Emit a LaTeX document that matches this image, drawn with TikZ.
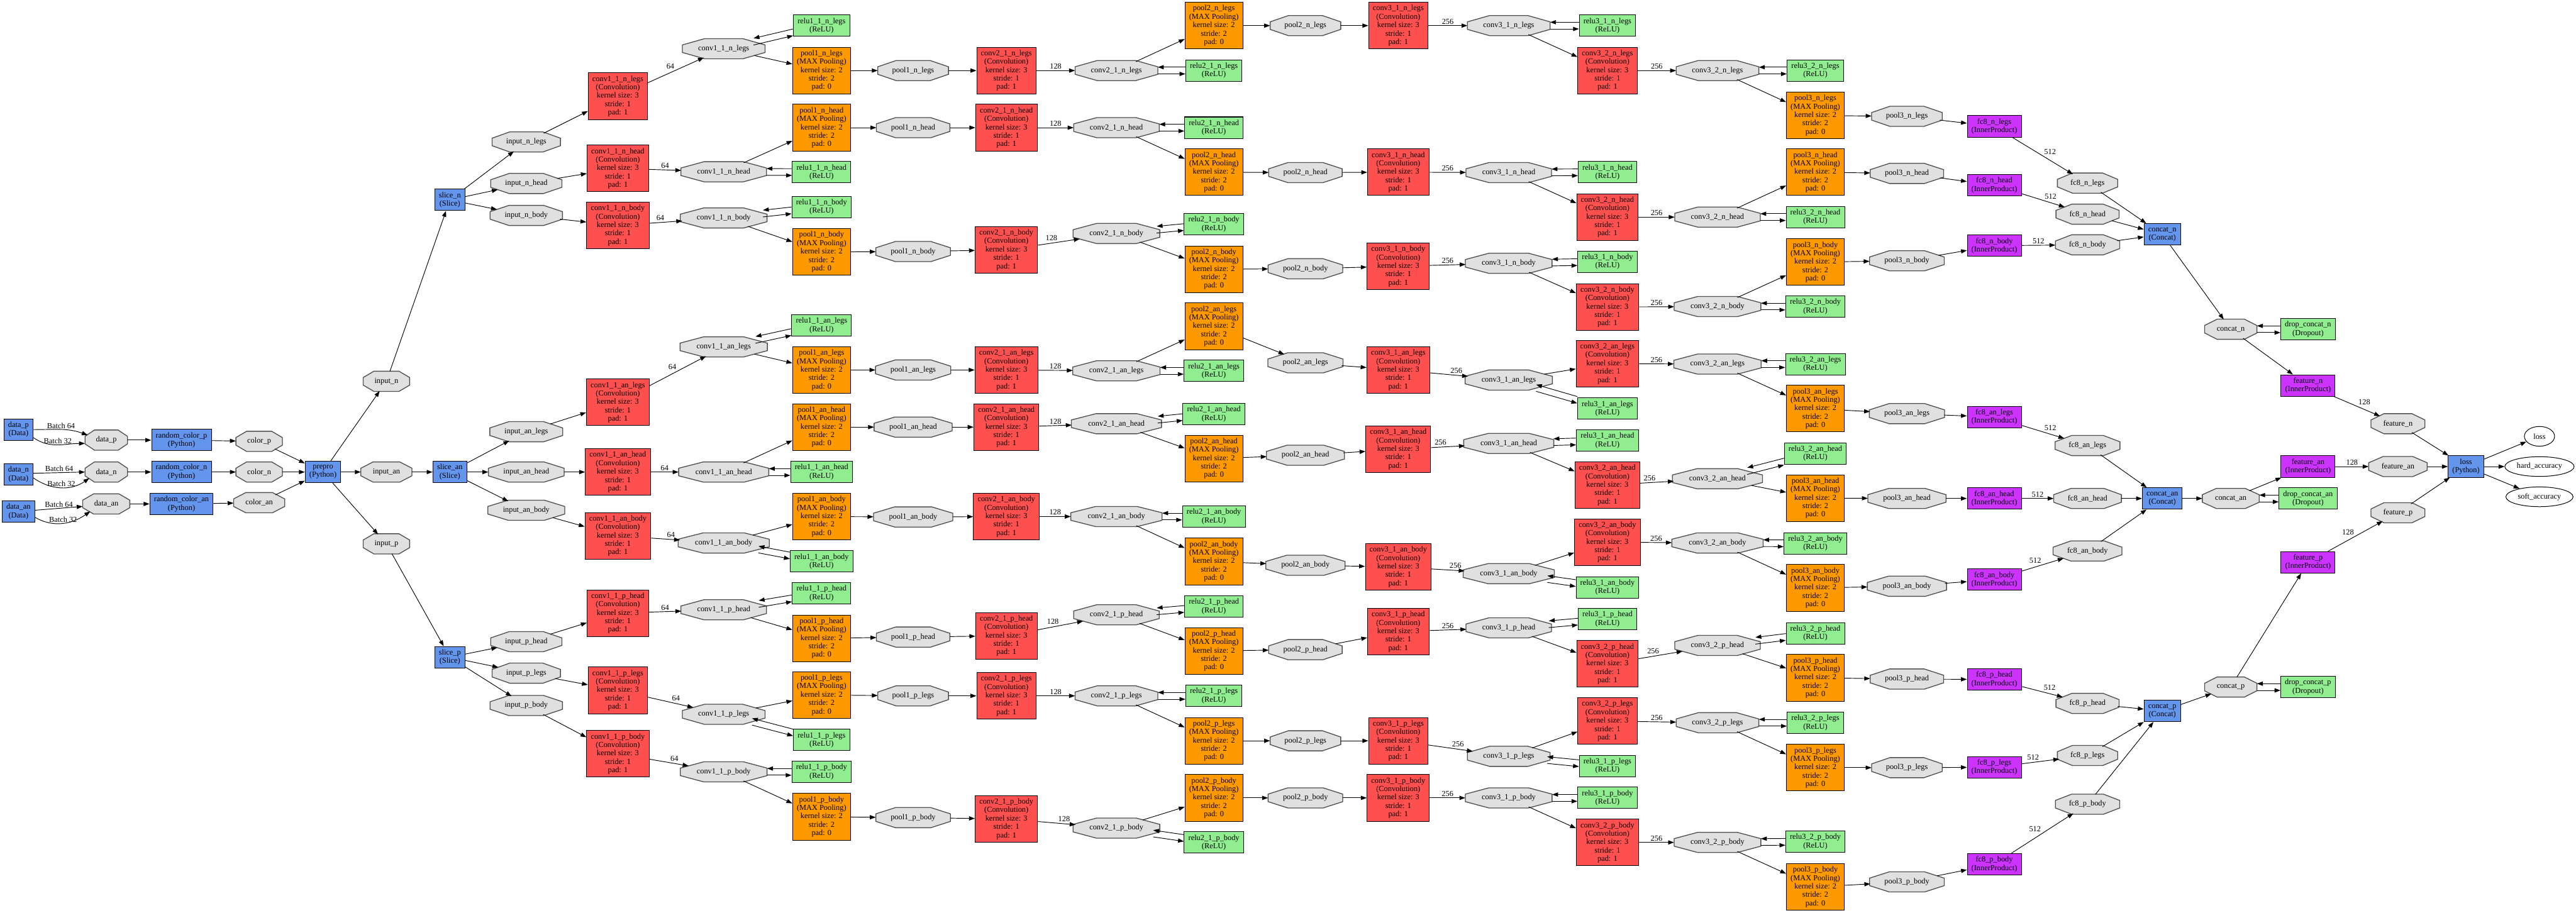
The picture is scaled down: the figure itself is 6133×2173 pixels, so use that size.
\documentclass[tikz,border=0pt]{standalone}
\usepackage{fontspec}
\setmainfont{Liberation Serif}
\usetikzlibrary{arrows.meta,shapes.geometric}
\definecolor{convc}{HTML}{FF5050}
\definecolor{poolc}{HTML}{FF9900}
\definecolor{reluc}{HTML}{90EE90}
\definecolor{bluec}{HTML}{6495ED}
\definecolor{ipc}{HTML}{CC33FF}
\definecolor{blobc}{HTML}{E0E0E0}
\definecolor{blobline}{HTML}{505050}
\catcode`\_=12
\newcommand\nodefont{\fontsize{18.5}{20}\selectfont}
\tikzset{
  lay/.style={draw=black, line width=1.5pt, font=\nodefont, align=center, inner xsep=10pt, inner ysep=0pt, minimum height=51pt},
  layfive/.style={lay, minimum height=111pt},
  txtnode/.style={font=\nodefont, inner sep=0pt},
  blobnode/.style={ellipse, font=\nodefont, inner sep=0pt, minimum height=48pt},
  blobshape/.style={fill=blobc, draw=blobline, line width=2pt, line join=miter},
  ell/.style={ellipse, draw=black, line width=1.5pt, font=\nodefont, minimum height=47pt, inner sep=0pt},
  conn/.style={draw=black, line width=1.4pt, -{Triangle[length=14pt,width=10pt]}},
  elabel/.style={auto, font=\nodefont, inner sep=3pt},
  blabel/.style={above, font=\nodefont, inner sep=2pt},
}
\newcommand\blob[3]{%
  \node[txtnode] (T-#1) at (#2,#3) {\phantom{#1}};%
  \pgfpointdiff{\pgfpointanchor{T-#1}{west}}{\pgfpointanchor{T-#1}{east}}%
  \pgfgetlastxy{\Otw}{\Oty}%
  \pgfmathsetmacro\Ow{1.33*\Otw+35}%
  \pgfmathsetmacro\Oh{\Ow/2}%
  \pgfmathsetmacro\Oc{\Oh-max(0.32*\Ow-10,12)}%
  \filldraw[blobshape] ({#2-\Oh},{#3-9}) -- ({#2-\Oc},{#3-24}) -- ({#2+\Oc},{#3-24}) -- ({#2+\Oh},{#3-9}) -- ({#2+\Oh},{#3+9}) -- ({#2+\Oc},{#3+24}) -- ({#2-\Oc},{#3+24}) -- ({#2-\Oh},{#3+9}) -- cycle;
  \node[blobnode, minimum width=\Ow] (B-#1) at (#2,#3) {#1};
}
\newcommand\conv[3]{\node[layfive,fill=convc] (L-#1) at (#2,#3) {#1\\(Convolution)\\kernel size: 3\\stride: 1\\pad: 1};}
\newcommand\pool[3]{\node[layfive,fill=poolc] (L-#1) at (#2,#3) {#1\\(MAX Pooling)\\kernel size: 2\\stride: 2\\pad: 0};}
\newcommand\relu[3]{\node[lay,fill=reluc] (L-#1) at (#2,#3) {#1\\(ReLU)};}
\newcommand\fc[3]{\node[lay,fill=ipc] (L-#1) at (#2,#3) {#1\\(InnerProduct)};}
\newcommand\bluel[4]{\node[lay,fill=bluec] (L-#1) at (#2,#3) {#1\\(#4)};}
\newcommand\drop[3]{\node[lay,fill=reluc] (L-#1) at (#2,#3) {#1\\(Dropout)};}
\newcommand\ed[2]{\draw[conn] (#1) -- (#2);}
\newcommand\edl[3]{\draw[conn] (#1) -- node[elabel]{#3} (#2);}
\newcommand\lp[2]{\draw[conn,transform canvas={yshift=-8pt}] (#1) -- (#2);\draw[conn,transform canvas={yshift=8pt}] (#2) -- (#1);}
\newcommand\branch[2]{%
\foreach \Ki/\Ka/\Kb/\Kc/\Kd/\Ke/\Kf/\Kg/\Kh/\Kj/\Kk/\Kl/\Km/\Kn/\Ko/\Kp/\Kq/\Kr/\Ks/\Kt/\Ku in {#2}{%
  \blob{input_#1}{1253}{\Ki}
  \conv{conv1_1_#1}{1471}{\Ka}
  \blob{conv1_1_#1}{1723}{\Kb}
  \relu{relu1_1_#1}{1956}{\Kc}
  \pool{pool1_#1}{1956}{\Kd}
  \blob{pool1_#1}{2174}{\Ke}
  \conv{conv2_1_#1}{2396}{\Kf}
  \blob{conv2_1_#1}{2658}{\Kg}
  \relu{relu2_1_#1}{2890}{\Kh}
  \pool{pool2_#1}{2890}{\Kj}
  \blob{pool2_#1}{3108}{\Kk}
  \conv{conv3_1_#1}{3329}{\Kl}
  \blob{conv3_1_#1}{3592}{\Km}
  \relu{relu3_1_#1}{3827}{\Kn}
  \conv{conv3_2_#1}{3827}{\Ko}
  \blob{conv3_2_#1}{4089}{\Kp}
  \relu{relu3_2_#1}{4322}{\Kq}
  \pool{pool3_#1}{4322}{\Kr}
  \blob{pool3_#1}{4540}{\Ks}
  \fc{fc8_#1}{4748}{\Kt}
  \blob{fc8_#1}{4970}{\Ku}
  \ed{B-input_#1}{L-conv1_1_#1}
  \edl{L-conv1_1_#1}{B-conv1_1_#1}{64}
  \lp{B-conv1_1_#1}{L-relu1_1_#1}
  \ed{B-conv1_1_#1}{L-pool1_#1}
  \ed{L-pool1_#1}{B-pool1_#1}
  \ed{B-pool1_#1}{L-conv2_1_#1}
  \edl{L-conv2_1_#1}{B-conv2_1_#1}{128}
  \lp{B-conv2_1_#1}{L-relu2_1_#1}
  \ed{B-conv2_1_#1}{L-pool2_#1}
  \ed{L-pool2_#1}{B-pool2_#1}
  \ed{B-pool2_#1}{L-conv3_1_#1}
  \edl{L-conv3_1_#1}{B-conv3_1_#1}{256}
  \lp{B-conv3_1_#1}{L-relu3_1_#1}
  \ed{B-conv3_1_#1}{L-conv3_2_#1}
  \edl{L-conv3_2_#1}{B-conv3_2_#1}{256}
  \lp{B-conv3_2_#1}{L-relu3_2_#1}
  \ed{B-conv3_2_#1}{L-pool3_#1}
  \ed{L-pool3_#1}{B-pool3_#1}
  \ed{B-pool3_#1}{L-fc8_#1}
  \edl{L-fc8_#1}{B-fc8_#1}{512}
}}
\begin{document}
\begin{tikzpicture}[x=1pt,y=-1pt]
\fill[white] (0,0) rectangle (6133,2173);
\useasboundingbox (0,0) rectangle (6133,2173);
% ---------- inputs ----------
\bluel{data_p}{44}{1023}{Data}
\bluel{data_n}{44}{1130}{Data}
\bluel{data_an}{44}{1218}{Data}
\blob{data_p}{253}{1048}
\blob{data_n}{253}{1124}
\blob{data_an}{253}{1200}
\bluel{random_color_p}{432}{1048}{Python}
\bluel{random_color_n}{432}{1124}{Python}
\bluel{random_color_an}{432}{1200}{Python}
\blob{color_p}{617}{1051}
\blob{color_n}{617}{1124}
\blob{color_an}{617}{1197}
\bluel{prepro}{769}{1124}{Python}
\blob{input_n}{920}{908}
\blob{input_an}{920}{1124}
\blob{input_p}{920}{1295}
\bluel{slice_n}{1071}{476}{Slice}
\bluel{slice_an}{1071}{1124}{Slice}
\bluel{slice_p}{1071}{1565}{Slice}
% ---------- branches ----------
\branch{n_legs}{338/229/116/61/168/168/168/168/168/61/61/61/61/61/168/168/168/275/277/301/436}
\branch{n_head}{437/401/409/410/304/304/304/304/304/410/411/410/411/410/517/517/517/410/413/441/510}
\branch{n_body}{513/537/519/493/600/599/595/556/534/641/640/634/627/623/731/730/730/624/621/585/583}
\branch{an_legs}{1028/958/826/775/881/881/881/883/883/777/864/881/905/973/866/867/867/973/985/993/1061}
\branch{an_head}{1124/1124/1124/1124/1017/1017/1017/1009/986/1092/1084/1070/1056/1049/1155/1140/1080/1186/1187/1187/1187}
\branch{an_body}{1215/1276/1293/1337/1230/1231/1230/1230/1230/1337/1346/1350/1366/1399/1291/1293/1294/1400/1396/1380/1312}
\branch{p_head}{1528/1460/1452/1413/1520/1517/1514/1464/1444/1550/1547/1504/1495/1474/1581/1537/1508/1614/1617/1618/1675}
\branch{p_legs}{1603/1644/1701/1762/1655/1657/1657/1657/1657/1764/1764/1764/1801/1824/1717/1721/1721/1828/1828/1827/1799}
\branch{p_body}{1680/1795/1838/1838/1945/1947/1950/1972/2006/1900/1900/1900/1900/1900/2006/2006/2004/2112/2100/2058/1915}
% ---------- heads ----------
\bluel{concat_n}{5148}{558}{Concat}
\bluel{concat_an}{5148}{1187}{Concat}
\bluel{concat_p}{5148}{1693}{Concat}
\blob{concat_n}{5311}{784}
\blob{concat_an}{5311}{1187}
\blob{concat_p}{5311}{1636}
\drop{drop_concat_n}{5495}{784}
\drop{drop_concat_an}{5495}{1187}
\drop{drop_concat_p}{5495}{1636}
\fc{feature_n}{5495}{918}
\fc{feature_an}{5495}{1111}
\fc{feature_p}{5495}{1339}
\blob{feature_n}{5709}{1009}
\blob{feature_an}{5709}{1111}
\blob{feature_p}{5709}{1221}
\bluel{loss}{5871}{1111}{Python}
\node[ell, minimum width=72pt] (E-loss) at (6046,1039) {loss};
\node[ell, minimum width=165pt] (E-hard_accuracy) at (6046,1111) {hard_accuracy};
\node[ell, minimum width=160pt] (E-soft_accuracy) at (6046,1183) {soft_accuracy};
% ---------- input edges ----------
\draw[conn] (L-data_p.east) to[out=0,in=160] node[blabel]{Batch 64} (B-data_p.165);
\draw[conn] ([yshift=-19pt]L-data_p.east) to[out=-35,in=180] node[blabel]{Batch 32} ([yshift=-8pt]B-data_p.west);
\draw[conn] ([yshift=3pt]L-data_n.east) -- node[blabel]{Batch 64} (B-data_n.west);
\draw[conn] ([yshift=-8pt]L-data_n.east) to[out=-35,in=215] node[blabel]{Batch 32} (B-data_n.200);
\draw[conn] ([yshift=3pt]L-data_an.east) -- node[blabel]{Batch 64} ([yshift=-6pt]B-data_an.west);
\draw[conn] ([yshift=-14pt]L-data_an.east) to[out=-30,in=215] node[blabel]{Batch 32} (B-data_an.205);
\ed{B-data_p}{L-random_color_p}
\ed{B-data_n}{L-random_color_n}
\ed{B-data_an}{L-random_color_an}
\ed{L-random_color_p}{B-color_p}
\ed{L-random_color_n}{B-color_n}
\ed{L-random_color_an}{B-color_an}
\ed{B-color_p}{L-prepro}
\ed{B-color_n}{L-prepro}
\ed{B-color_an}{L-prepro}
\ed{L-prepro}{B-input_n}
\ed{L-prepro}{B-input_an}
\ed{L-prepro}{B-input_p}
\ed{B-input_n}{L-slice_n}
\ed{B-input_an}{L-slice_an}
\ed{B-input_p}{L-slice_p}
\ed{L-slice_n}{B-input_n_legs}
\ed{L-slice_n}{B-input_n_head}
\ed{L-slice_n}{B-input_n_body}
\ed{L-slice_an}{B-input_an_legs}
\ed{L-slice_an}{B-input_an_head}
\ed{L-slice_an}{B-input_an_body}
\ed{L-slice_p}{B-input_p_head}
\ed{L-slice_p}{B-input_p_legs}
\ed{L-slice_p}{B-input_p_body}
% ---------- head edges ----------
\ed{B-fc8_n_legs}{L-concat_n}
\ed{B-fc8_n_head}{L-concat_n}
\ed{B-fc8_n_body}{L-concat_n}
\ed{B-fc8_an_legs}{L-concat_an}
\ed{B-fc8_an_head}{L-concat_an}
\ed{B-fc8_an_body}{L-concat_an}
\ed{B-fc8_p_head}{L-concat_p}
\ed{B-fc8_p_legs}{L-concat_p}
\ed{B-fc8_p_body}{L-concat_p}
\ed{L-concat_n}{B-concat_n}
\ed{L-concat_an}{B-concat_an}
\ed{L-concat_p}{B-concat_p}
\lp{B-concat_n}{L-drop_concat_n}
\lp{B-concat_an}{L-drop_concat_an}
\lp{B-concat_p}{L-drop_concat_p}
\ed{B-concat_n}{L-feature_n}
\ed{B-concat_an}{L-feature_an}
\ed{B-concat_p}{L-feature_p}
\edl{L-feature_n}{B-feature_n}{128}
\edl{L-feature_an}{B-feature_an}{128}
\edl{L-feature_p}{B-feature_p}{128}
\ed{B-feature_n}{L-loss}
\ed{B-feature_an}{L-loss}
\ed{B-feature_p}{L-loss}
\ed{L-loss}{E-loss}
\ed{L-loss}{E-hard_accuracy}
\ed{L-loss}{E-soft_accuracy}
\end{tikzpicture}
\end{document}
